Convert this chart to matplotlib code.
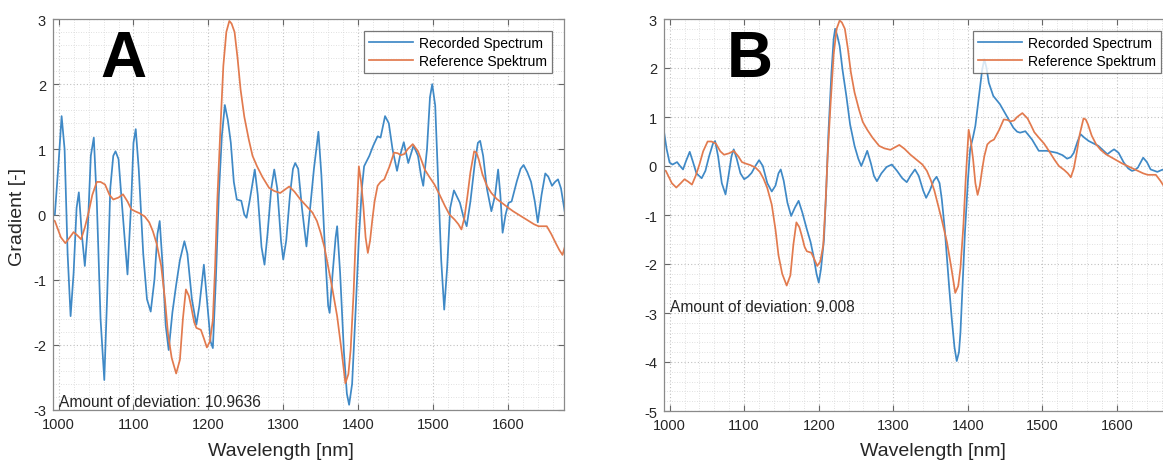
import numpy as np
import matplotlib
matplotlib.use("Agg")
import matplotlib.pyplot as plt
from matplotlib.ticker import MultipleLocator

# ---- data -------------------------------------------------------------------
# Panel A: recorded spectrum (gradient)
wl_rec_a = [995, 1000, 1004, 1008, 1012, 1016, 1020, 1024, 1027, 1031, 1035, 1039,
            1043, 1047, 1051, 1056, 1061, 1065, 1069, 1073, 1076, 1080, 1085, 1092,
            1097, 1100, 1103, 1107, 1113, 1118, 1123, 1128, 1132, 1135, 1139, 1143,
            1147, 1152, 1157, 1162, 1168, 1172, 1178, 1184, 1188, 1194, 1198, 1203,
            1206, 1210, 1214, 1218, 1222, 1226, 1230, 1234, 1238, 1244, 1248, 1251,
            1255, 1262, 1266, 1271, 1275, 1279, 1284, 1288, 1292, 1297, 1300, 1304,
            1309, 1313, 1316, 1320, 1325, 1331, 1336, 1341, 1347, 1351, 1356, 1360,
            1362, 1366, 1370, 1372, 1376, 1381, 1385, 1388, 1392, 1397, 1401, 1405,
            1408, 1415, 1420, 1426, 1430, 1436, 1441, 1446, 1452, 1456, 1461, 1467,
            1474, 1480, 1484, 1487, 1492, 1496, 1499, 1503, 1507, 1511, 1515, 1519,
            1523, 1528, 1536, 1541, 1545, 1550, 1556, 1560, 1563, 1567, 1572, 1578,
            1583, 1587, 1590, 1593, 1597, 1601, 1605, 1612, 1617, 1621, 1626, 1631,
            1636, 1640, 1645, 1650, 1654, 1659, 1663, 1667, 1671, 1677]
grad_rec_a = [0.0, 0.8, 1.51, 1.0, -0.6, -1.56, -0.9, 0.1, 0.34, -0.3, -0.79, -0.2,
              0.9, 1.18, 0.2, -1.6, -2.54, -1.2, 0.4, 0.9, 0.97, 0.85, 0.1, -0.92,
              0.2, 1.1, 1.31, 0.7, -0.6, -1.3, -1.49, -1.0, -0.3, -0.10, -0.8, -1.7,
              -2.08, -1.5, -1.08, -0.7, -0.41, -0.6, -1.3, -1.69, -1.4, -0.77, -1.3, -1.95,
              -2.05, -1.0, 0.3, 1.2, 1.68, 1.45, 1.1, 0.5, 0.23, 0.21, 0.0, -0.05,
              0.2, 0.69, 0.3, -0.5, -0.77, -0.3, 0.4, 0.69, 0.4, -0.4, -0.69, -0.4,
              0.3, 0.7, 0.79, 0.7, 0.1, -0.49, 0.1, 0.7, 1.27, 0.6, -0.6, -1.4,
              -1.51, -0.9, -0.35, -0.18, -0.9, -2.1, -2.75, -2.92, -2.6, -1.4, -0.38, 0.4,
              0.74, 0.9, 1.05, 1.2, 1.18, 1.51, 1.4, 1.0, 0.67, 0.9, 1.11, 0.79,
              1.06, 0.9, 0.6, 0.44, 1.0, 1.8, 2.0, 1.67, 0.5, -0.7, -1.46, -0.8,
              0.1, 0.37, 0.18, -0.05, -0.18, 0.2, 0.8, 1.1, 1.13, 0.9, 0.4, 0.05,
              0.3, 0.69, 0.3, -0.28, 0.0, 0.18, 0.2, 0.51, 0.7, 0.76, 0.65, 0.5,
              0.2, -0.12, 0.3, 0.63, 0.58, 0.44, 0.5, 0.54, 0.4, -0.03]

# Reference spectrum (same in both panels)
wl_ref = [992, 995, 1003, 1009, 1015, 1020, 1025, 1030, 1035, 1040, 1045, 1051,
          1056, 1062, 1068, 1073, 1080, 1086, 1092, 1097, 1102, 1108, 1115, 1121,
          1126, 1131, 1137, 1142, 1146, 1151, 1157, 1162, 1166, 1170, 1174, 1177,
          1181, 1184, 1190, 1194, 1198, 1202, 1206, 1209, 1212, 1216, 1220, 1224,
          1228, 1231, 1235, 1239, 1243, 1248, 1254, 1259, 1265, 1272, 1281, 1288,
          1296, 1302, 1308, 1315, 1323, 1331, 1339, 1345, 1350, 1355, 1359, 1365,
          1372, 1378, 1383, 1387, 1390, 1394, 1397, 1401, 1404, 1407, 1410, 1413,
          1416, 1419, 1422, 1426, 1430, 1435, 1442, 1448, 1453, 1457, 1462, 1466,
          1473, 1480, 1485, 1489, 1495, 1502, 1509, 1516, 1522, 1529, 1534, 1538,
          1542, 1546, 1550, 1555, 1558, 1561, 1566, 1572, 1578, 1585, 1593, 1601,
          1607, 1614, 1621, 1628, 1635, 1641, 1647, 1652, 1658, 1664, 1669, 1673,
          1676, 1678]
grad_ref = [-0.08, -0.10, -0.35, -0.44, -0.35, -0.27, -0.32, -0.38, -0.2, 0.03, 0.3, 0.5,
            0.5, 0.46, 0.3, 0.23, 0.26, 0.31, 0.2, 0.08, 0.05, 0.02, -0.03, -0.12,
            -0.26, -0.45, -0.79, -1.3, -1.82, -2.2, -2.44, -2.23, -1.6, -1.15, -1.25, -1.41,
            -1.65, -1.74, -1.77, -1.9, -2.04, -1.95, -1.62, -0.8, 0.23, 1.3, 2.28, 2.8,
            2.97, 2.93, 2.8, 2.4, 1.92, 1.5, 1.15, 0.9, 0.74, 0.58, 0.41, 0.36,
            0.33, 0.38, 0.43, 0.35, 0.23, 0.13, 0.03, -0.1, -0.28, -0.5, -0.74, -1.1,
            -1.56, -2.1, -2.59, -2.45, -2.08, -1.2, -0.28, 0.74, 0.5, 0.13, -0.35, -0.59,
            -0.4, -0.08, 0.2, 0.44, 0.5, 0.54, 0.74, 0.95, 0.94, 0.91, 0.93, 1.0,
            1.08, 0.97, 0.82, 0.69, 0.58, 0.46, 0.3, 0.13, 0.0, -0.08, -0.15, -0.23,
            -0.05, 0.28, 0.65, 0.97, 0.95, 0.85, 0.62, 0.44, 0.33, 0.24, 0.17, 0.1,
            0.05, 0.0, -0.05, -0.1, -0.15, -0.18, -0.18, -0.18, -0.3, -0.44, -0.55, -0.62,
            -0.5, -0.46]

# Panel B: recorded spectrum
wl_rec_b = [992, 996, 1000, 1004, 1010, 1014, 1018, 1022, 1027, 1031, 1036, 1043,
            1048, 1053, 1058, 1061, 1065, 1070, 1075, 1079, 1083, 1086, 1090, 1095,
            1100, 1105, 1110, 1115, 1120, 1125, 1131, 1137, 1142, 1146, 1149, 1153,
            1158, 1163, 1168, 1173, 1178, 1184, 1189, 1193, 1197, 1200, 1203, 1207,
            1210, 1213, 1217, 1220, 1222, 1225, 1228, 1232, 1237, 1242, 1248, 1253,
            1257, 1261, 1265, 1270, 1274, 1278, 1284, 1291, 1298, 1305, 1312, 1318,
            1323, 1329, 1334, 1340, 1344, 1349, 1354, 1358, 1362, 1365, 1369, 1372,
            1375, 1378, 1382, 1385, 1388, 1390, 1393, 1396, 1400, 1403, 1407, 1410,
            1413, 1416, 1419, 1422, 1425, 1428, 1434, 1443, 1452, 1461, 1466, 1470,
            1477, 1486, 1495, 1506, 1519, 1527, 1533, 1538, 1542, 1547, 1551, 1556,
            1562, 1575, 1587, 1592, 1596, 1602, 1609, 1615, 1620, 1624, 1628, 1635,
            1640, 1645, 1654, 1660, 1665, 1672]
grad_rec_b = [0.75, 0.35, 0.07, 0.03, 0.08, 0.0, -0.07, 0.1, 0.29, 0.1, -0.15, -0.25,
              -0.1, 0.2, 0.45, 0.51, 0.2, -0.35, -0.58, -0.2, 0.2, 0.34, 0.15, -0.15,
              -0.27, -0.22, -0.14, 0.0, 0.12, 0.0, -0.35, -0.52, -0.4, -0.15, -0.07, -0.3,
              -0.75, -1.02, -0.85, -0.71, -0.95, -1.29, -1.55, -1.84, -2.2, -2.38, -2.1, -1.5,
              -0.5, 0.68, 1.9, 2.6, 2.8, 2.65, 2.45, 1.95, 1.43, 0.85, 0.41, 0.15,
              0.0, 0.15, 0.31, 0.05, -0.2, -0.31, -0.15, -0.02, 0.03, -0.1, -0.25, -0.33,
              -0.2, -0.07, -0.2, -0.5, -0.65, -0.5, -0.3, -0.22, -0.35, -0.68, -1.3, -1.91,
              -2.5, -3.06, -3.7, -3.98, -3.8, -3.4, -2.4, -1.36, -0.3, 0.34, 0.6, 0.82,
              1.2, 1.57, 1.95, 2.18, 2.0, 1.7, 1.43, 1.26, 1.02, 0.78, 0.7, 0.68,
              0.71, 0.54, 0.31, 0.31, 0.27, 0.22, 0.15, 0.18, 0.27, 0.5, 0.65, 0.58,
              0.51, 0.41, 0.24, 0.3, 0.34, 0.27, 0.07, -0.05, -0.1, -0.08, -0.03, 0.17,
              0.08, -0.07, -0.12, -0.08, -0.07, -0.1]

deviation_a = "Amount of deviation: 10.9636"
deviation_b = "Amount of deviation: 9.008"

# ---- style ------------------------------------------------------------------
plt.rcParams['font.family'] = ['Liberation Sans', 'DejaVu Sans']
plt.rcParams['axes.unicode_minus'] = False  # plain hyphen minus like the original
BLUE = '#3F89C6'
ORANGE = '#E27A4E'
FRAME = '#8a8a8a'
TXT = '#262626'

fig = plt.figure(figsize=(11.63, 4.64), dpi=100)
W, H = 1163.0, 464.0
ax_a = fig.add_axes([53 / W, 53 / H, 511 / W, 391 / H])
ax_b = fig.add_axes([664 / W, 52 / H, 509 / W, 392 / H])  # right side runs off the image


def style_axes(ax, ylo, yhi):
    ax.set_xlim(992.5, 1675)
    ax.set_ylim(ylo, yhi)
    ax.xaxis.set_major_locator(MultipleLocator(100))
    ax.xaxis.set_minor_locator(MultipleLocator(20))
    ax.yaxis.set_major_locator(MultipleLocator(1))
    ax.yaxis.set_minor_locator(MultipleLocator(0.2))
    ax.grid(which='major', color='#c0c0c0', linestyle=(0, (1, 2)), linewidth=0.8)
    ax.grid(which='minor', color='#d6d6d6', linestyle=(0, (1, 2)), linewidth=0.6)
    ax.set_axisbelow(True)
    ax.tick_params(which='major', direction='in', length=4, width=0.8, color='#666666',
                   top=True, right=True, labelsize=10.5, labelcolor=TXT, pad=5)
    ax.tick_params(which='minor', length=0)
    for s in ax.spines.values():
        s.set_color(FRAME)
        s.set_linewidth(0.9)


def draw_panel(ax, wl_rec, grad_rec, text):
    ax.plot(wl_rec, grad_rec, color=BLUE, lw=1.25, label='Recorded Spectrum')
    ax.plot(wl_ref, grad_ref, color=ORANGE, lw=1.25, label='Reference Spektrum')
    leg = ax.legend(loc='upper right', fontsize=10, frameon=True, fancybox=False,
                    handlelength=3.2, handletextpad=0.45, borderaxespad=0.85,
                    borderpad=0.35, labelspacing=0.3)
    leg.get_frame().set_edgecolor('#555555')
    leg.get_frame().set_linewidth(0.9)
    ax.text(1000, -2.87, text, fontsize=11.2, color=TXT, va='center', ha='left')


style_axes(ax_a, -3, 3)
style_axes(ax_b, -5, 3)
draw_panel(ax_a, wl_rec_a, grad_rec_a, deviation_a)
draw_panel(ax_b, wl_rec_b, grad_rec_b, deviation_b)

# panel letters and the big axis labels
fig.text(123 / W, 1 - 60 / H, 'A', fontsize=46, fontweight='bold', color='black',
         ha='center', va='center')
fig.text(750 / W, 1 - 60 / H, 'B', fontsize=46, fontweight='bold', color='black',
         ha='center', va='center')
fig.text(281 / W, 1 - 452 / H, 'Wavelength [nm]', fontsize=14, color=TXT,
         ha='center', va='center')
fig.text(933 / W, 1 - 452 / H, 'Wavelength [nm]', fontsize=14, color=TXT,
         ha='center', va='center')
fig.text(18 / W, 1 - 217 / H, 'Gradient [-]', fontsize=14, color=TXT,
         ha='center', va='center', rotation=90)

fig.savefig('out.png', dpi=100, facecolor='white')
